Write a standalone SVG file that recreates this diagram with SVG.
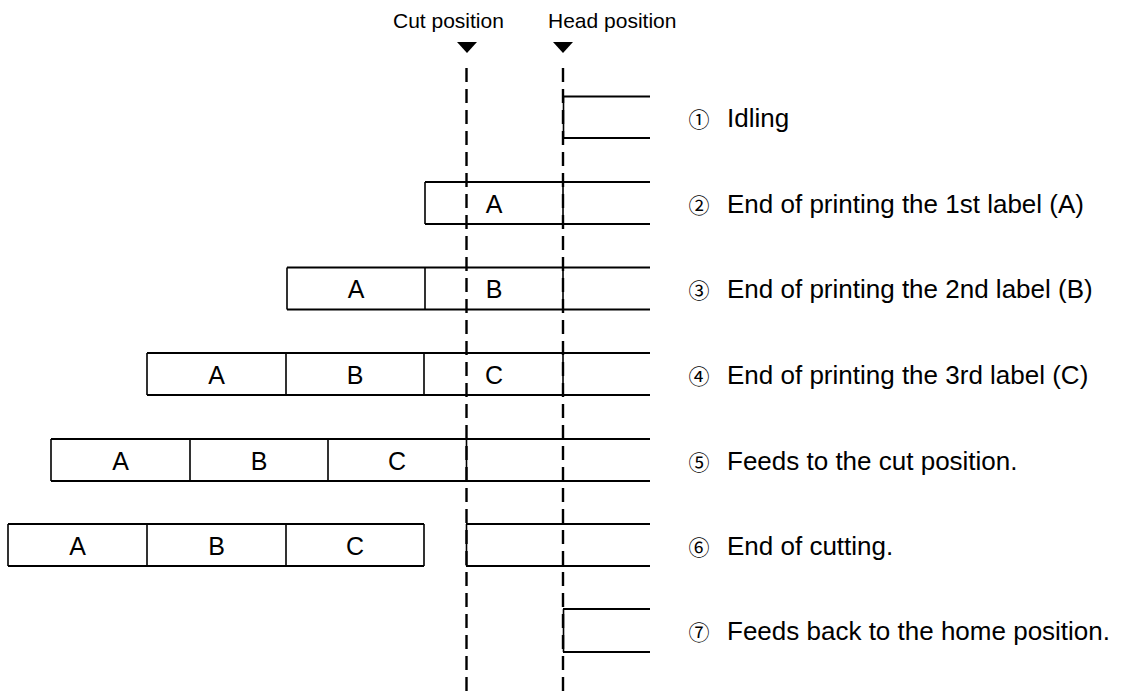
<svg xmlns="http://www.w3.org/2000/svg" width="1125" height="692" viewBox="0 0 1125 692">
<style>
  .h { stroke:#000; stroke-width:2.2; fill:none; }
  .v { stroke:#000; stroke-width:1.6; fill:none; }
  .dash { stroke:#000; stroke-width:2.4; stroke-dasharray:14 7; fill:none; }
  .cell { font-family:"Liberation Sans", Arial, sans-serif; font-size:25px; text-anchor:middle; fill:#000; }
  .desc { font-family:"Liberation Sans", Arial, sans-serif; font-size:26px; fill:#000; }
  .num { font-family:"Noto Sans CJK JP", "DejaVu Sans", sans-serif; font-size:21px; text-anchor:middle; fill:#000; }
  .hdr { font-family:"Liberation Sans", Arial, sans-serif; font-size:21px; fill:#000; }
</style>
<rect width="1125" height="692" fill="#fff"/>

<g id="header">
  <text class="hdr" x="393" y="28">Cut position</text>
  <text class="hdr" x="548" y="28">Head position</text>
  <polygon points="457,42 477,42 467,53" fill="#000"/>
  <polygon points="553,42 573,42 563,53" fill="#000"/>
</g>

<g id="row1">
  <path class="h" d="M563,96.5 H650 M563,138 H650"/>
  <path class="v" d="M563.5,96 V138"/>
  <text class="num" x="699" y="127">①</text>
  <text class="desc" x="727" y="127">Idling</text>
</g>

<g id="row2">
  <path class="h" d="M425,182 H650 M425,224 H650"/>
  <path class="v" d="M425,182 V224 M563,182 V224"/>
  <text class="cell" x="494" y="213">A</text>
  <text class="num" x="699" y="213">②</text>
  <text class="desc" x="727" y="213">End of printing the 1st label (A)</text>
</g>

<g id="row3">
  <path class="h" d="M287,267.5 H650 M287,309.5 H650"/>
  <path class="v" d="M287,267.5 V309.5 M425,267.5 V309.5 M563,267.5 V309.5"/>
  <text class="cell" x="356" y="298">A</text>
  <text class="cell" x="494" y="298">B</text>
  <text class="num" x="699" y="298">③</text>
  <text class="desc" x="727" y="298">End of printing the 2nd label (B)</text>
</g>

<g id="row4">
  <path class="h" d="M147,353 H650 M147,395 H650"/>
  <path class="v" d="M147,353 V395 M286,353 V395 M424,353 V395 M563,353 V395"/>
  <text class="cell" x="216.5" y="384">A</text>
  <text class="cell" x="355" y="384">B</text>
  <text class="cell" x="494" y="384">C</text>
  <text class="num" x="699" y="384">④</text>
  <text class="desc" x="727" y="384">End of printing the 3rd label (C)</text>
</g>

<g id="row5">
  <path class="h" d="M51,439 H650 M51,481 H650"/>
  <path class="v" d="M51,439 V481 M190,439 V481 M328,439 V481 M466.5,439 V481"/>
  <text class="cell" x="120.5" y="470">A</text>
  <text class="cell" x="259" y="470">B</text>
  <text class="cell" x="397" y="470">C</text>
  <text class="num" x="699" y="470">⑤</text>
  <text class="desc" x="727" y="470">Feeds to the cut position.</text>
</g>

<g id="row6">
  <path class="h" d="M8,524 H424 M8,566 H424 M466,524 H650 M466,566 H650"/>
  <path class="v" d="M8,524 V566 M147,524 V566 M286,524 V566 M424,524 V566 M466.5,524 V566"/>
  <text class="cell" x="77.5" y="555">A</text>
  <text class="cell" x="216.5" y="555">B</text>
  <text class="cell" x="355" y="555">C</text>
  <text class="num" x="699" y="555">⑥</text>
  <text class="desc" x="727" y="555">End of cutting.</text>
</g>

<g id="row7">
  <path class="h" d="M563,609 H650 M563,652 H650"/>
  <path class="v" d="M563.5,609 V652"/>
  <text class="num" x="699" y="640">⑦</text>
  <text class="desc" x="727" y="640">Feeds back to the home position.</text>
</g>

<g id="connectors">
  <line class="dash" x1="466.5" y1="68" x2="466.5" y2="692"/>
  <line class="dash" x1="563" y1="68" x2="563" y2="692"/>
</g>
</svg>
